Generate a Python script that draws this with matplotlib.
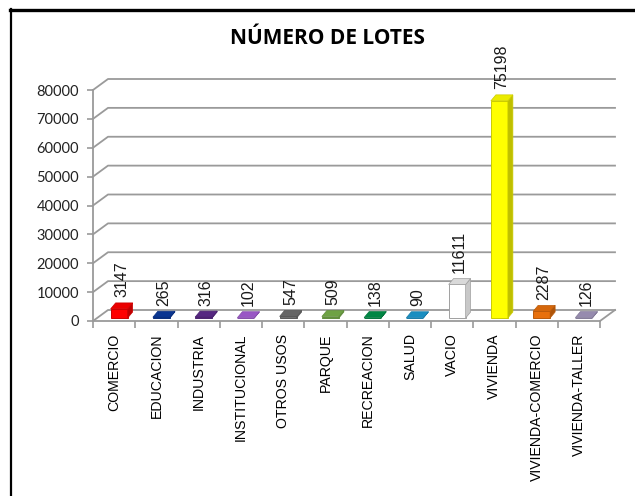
import numpy as np
import matplotlib.pyplot as plt
from matplotlib.patches import Polygon
from matplotlib.lines import Line2D
from matplotlib.colors import to_rgb

# Datos
categorias = ["COMERCIO", "EDUCACION", "INDUSTRIA", "INSTITUCIONAL", "OTROS USOS",
              "PARQUE", "RECREACION", "SALUD", "VACIO", "VIVIENDA",
              "VIVIENDA-COMERCIO", "VIVIENDA-TALLER"]
lotes = [3147, 265, 316, 102, 547, 509, 138, 90, 11611, 75198, 2287, 126]
colores = ["#ff0000", "#0b3a9e", "#5e2a8c", "#a65fd6", "#6e6e6e", "#78b04a",
           "#00924a", "#1b9ad2", "#ffffff", "#ffff00", "#e8700c", "#a397bd"]
yticks = list(range(0, 80001, 10000))

W, H = 635, 496
fig = plt.figure(figsize=(W / 100, H / 100), dpi=100)

# marco
fig.add_artist(Line2D([10.5 / W, 10.5 / W], [0, 1 - 9 / H], color="black", lw=1.6))
fig.add_artist(Line2D([10 / W, 1], [1 - 9.5 / H, 1 - 9.5 / H], color="black", lw=2.4))

# ejes (plano frontal)
x0, x1, y0, ytop = 93, 600, 321, 90
ax = fig.add_axes([x0 / W, (H - y0) / H, (x1 - x0) / W, (y0 - ytop) / H])
n = len(categorias)
ax.set_xlim(0, n)
ax.set_ylim(0, 80000)
sx = n / (x1 - x0)          # datos por pixel en x
sy = 80000 / (y0 - ytop)    # datos por pixel en y

grid_c = "#9a9a9a"
DX, DY = 15 * sx, 11 * sy   # profundidad de la pared

# pared de fondo y lateral
for v in yticks:
    ax.plot([0, DX, n + DX], [v, v + DY, v + DY], color=grid_c, lw=1.3,
            clip_on=False, zorder=1)
ax.plot([n, n + DX], [0, DY], color=grid_c, lw=1.3, clip_on=False, zorder=1)

# barras con efecto 3D
bw = 17 * sx
bdx, bdy = 5 * sx, 6 * sy
offy = 3 * sy


def sombra(c, f):
    r, g, b = to_rgb(c)
    return (r * f, g * f, b * f)


for i, (v, c) in enumerate(zip(lotes, colores)):
    xa = i + 0.5 - bw / 2 + 5 * sx
    xb = xa + bw
    b0 = offy
    t = b0 + v
    ec = "#a0a0a0" if c == "#ffffff" else sombra(c, 0.8)
    side_c = "#c8c8c8" if c == "#ffffff" else sombra(c, 0.75)
    top_c = "#d9d9d9" if c == "#ffffff" else sombra(c, 0.92)
    ax.bar(xa + bw / 2, v, width=bw, bottom=b0, color=c, edgecolor=ec,
           lw=0.7, zorder=3, clip_on=False)
    ax.add_patch(Polygon([(xb, b0), (xb + bdx, b0 + bdy), (xb + bdx, t + bdy), (xb, t)],
                         closed=True, facecolor=side_c, edgecolor=ec, lw=0.5,
                         zorder=3, clip_on=False))
    ax.add_patch(Polygon([(xa, t), (xa + bdx, t + bdy), (xb + bdx, t + bdy), (xb, t)],
                         closed=True, facecolor=top_c, edgecolor=ec, lw=0.5,
                         zorder=4, clip_on=False))
    ax.annotate(str(v), xy=(xa + bw / 2 + bdx / 2, t + bdy), xytext=(0, 4),
                textcoords="offset points", rotation=90, ha="center", va="bottom",
                fontsize=11.5, family="Liberation Sans", color="#1a1a1a",
                zorder=5, annotation_clip=False)

# ejes
for s in ["top", "right"]:
    ax.spines[s].set_visible(False)
for s in ["left", "bottom"]:
    ax.spines[s].set_color(grid_c)
    ax.spines[s].set_linewidth(1.3)
ax.set_yticks(yticks)
ax.set_yticklabels([str(v) for v in yticks], fontsize=10.5, family="Lato",
                   color="#222222")
ax.tick_params(axis="y", length=4, width=1.2, color=grid_c, pad=6)
ax.set_xticks(np.arange(n + 1), minor=False)
ax.set_xticklabels([])
ax.tick_params(axis="x", length=5, width=1.2, color=grid_c)
ax.set_xticks(np.arange(n) + 0.5, minor=True)
ax.set_xticklabels(categorias, minor=True, rotation=90, fontsize=10.2,
                   family="Liberation Sans")
ax.tick_params(axis="x", which="minor", length=0, pad=9)
ax.patch.set_visible(False)

fig.text(328 / W, 1 - 38 / H, "NÚMERO DE LOTES", ha="center", va="center",
         fontsize=15, fontweight="bold", family="Open Sans")

fig.savefig("out.png", dpi=100)
